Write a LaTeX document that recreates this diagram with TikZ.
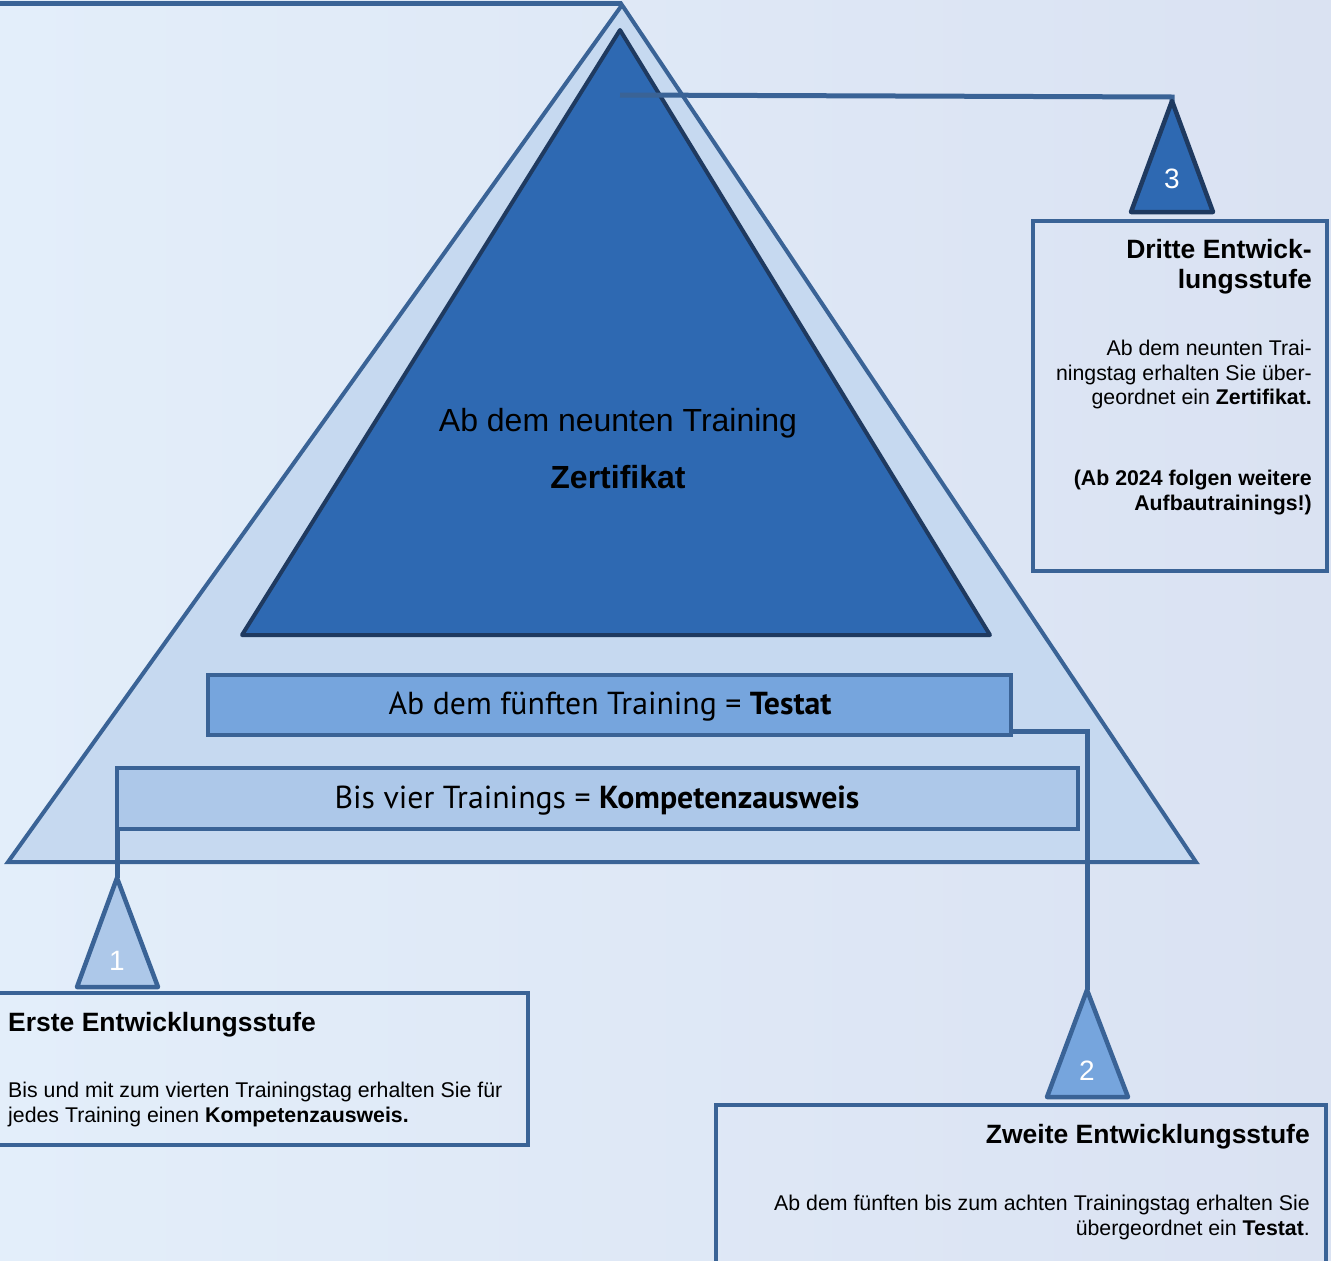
\documentclass[tikz,border=0pt]{standalone}
\usepackage{fontspec}
\setmainfont{Liberation Sans}
\newfontfamily\bandfont{PT Sans}
\usetikzlibrary{calc}
\definecolor{bgL}{HTML}{E3EEFA}
\definecolor{bgR}{HTML}{DAE2F2}
\definecolor{steel}{HTML}{3A6396}
\definecolor{navy}{HTML}{1F3A60}
\definecolor{paleblue}{HTML}{C6D9F0}
\definecolor{midblue}{HTML}{2E69B2}
\definecolor{bandA}{HTML}{76A5DD}
\definecolor{bandB}{HTML}{ADC8E9}
\tikzset{
  outertri/.style={draw=steel, line width=4pt, fill=paleblue, line join=miter},
  innertri/.style={draw=navy, line width=4pt, fill=midblue, line join=round},
  bandbox/.style={draw=steel, line width=4pt, rectangle, inner sep=0pt, outer sep=0pt},
  conn/.style={draw=steel, line width=5pt},
  numtri/.style={line width=4.5pt, line join=round},
  numlabel/.style={text=white, font=\fontsize{28}{28}\selectfont, inner sep=0pt},
  infobox/.style={draw=steel, line width=4pt},
  headtxt/.style={font=\bfseries\fontsize{26.5}{30}\selectfont, inner sep=0pt},
  bodytxt/.style={font=\fontsize{21.3}{24.5}\selectfont, inner sep=0pt},
  bigtxt/.style={font=\fontsize{32}{32}\selectfont, inner sep=0pt},
  bandtxt/.style={font=\bandfont\fontsize{31.8}{32}\selectfont, inner sep=0pt}
}
\begin{document}
\begin{tikzpicture}[x=1pt,y=-1pt]
\useasboundingbox (0,0) rectangle (1331,1261);
\clip (0,0) rectangle (1331,1261);
\shade[left color=bgL, right color=bgR] (0,0) rectangle (1331,1261);

% outer pyramid
\coordinate (apex) at (622,5);
\coordinate (baseR) at (1196,862);
\coordinate (baseL) at (8,862);
\draw[outertri] (apex) -- (baseR) -- (baseL) -- cycle;

% top line into the apex
\coordinate (topL) at (-5,3);
\draw[conn] (topL) -- (topL -| apex);

% inner triangle
\coordinate (iapex) at (620,30);
\coordinate (iR) at (990,635);
\coordinate (iL) at (242,635);
\draw[innertri] (iapex) -- (iR) -- (iL) -- cycle;
\node[bigtxt] (neun) at (618,423) {Ab dem neunten Training};
\node[bigtxt, font=\bfseries\fontsize{32}{32}\selectfont] (zert) at (618,477) {Zertifikat};

% connector 3
\coordinate (c3s) at (620,95);
\coordinate (c3k) at (1172,97);
\coordinate (t3) at (1172,101);
\draw[conn] (c3s) -- (c3k) -- (t3);
\draw[numtri, draw=navy, fill=midblue] (t3) -- (1213,212) -- (1131,212) -- cycle;
\node[numlabel] (n3) at (1172,179) {3};

% bands
\node[bandbox, fill=bandA, minimum width=803pt, minimum height=60pt] (testat) at (609.5,705) {};
\node[bandtxt] (testattxt) at (610,707) {Ab dem fünften Training = \textbf{Testat}};
\node[bandbox, fill=bandB, minimum width=961pt, minimum height=61pt] (komp) at (597.5,798.5) {};
\node[bandtxt] (komptxt) at (597,801) {Bis vier Trainings = \textbf{Kompetenzausweis}};

% connector 2
\coordinate (t2) at (1087,990);
\draw[conn] ([yshift=4pt]testat.south east) -| (t2);
\draw[numtri, draw=steel, fill=bandA] (t2) -- (1128,1097) -- (1047,1097) -- cycle;
\node[numlabel] (n2) at (1087,1071) {2};

% connector 1
\coordinate (t1) at (117,878);
\draw[conn] (komp.south west) -- (t1);
\draw[numtri, draw=steel, fill=bandB] (t1) -- (158,987) -- (77,987) -- cycle;
\node[numlabel] (n1) at (117,961) {1};

% info boxes
\draw[infobox] (1033,221) rectangle (1327,571);
\draw[infobox] (-5,993) rectangle (528,1145);
\draw[infobox] (716,1105) rectangle (1326,1275);

% box 3 texts
\node[headtxt, anchor=north east, align=right] (h3) at (1312,239) {Dritte Entwick-\\lungsstufe};
\node[bodytxt, anchor=north east, align=right] (b3) at (1312,340) {Ab dem neunten Trai-\\ningstag erhalten Sie über-\\geordnet ein \textbf{Zertifikat.}};
\node[bodytxt, font=\bfseries\fontsize{21.3}{24.5}\selectfont, anchor=north east, align=right] (b3b) at (1312,470) {(Ab 2024 folgen weitere\\Aufbautrainings!)};

% box 1 texts
\node[headtxt, anchor=north west, align=left] (h1) at (8,1012) {Erste Entwicklungsstufe};
\node[bodytxt, anchor=north west, align=left] (b1) at (8,1082) {Bis und mit zum vierten Trainingstag erhalten Sie für\\jedes Training einen \textbf{Kompetenzausweis.}};

% box 2 texts
\node[headtxt, anchor=north east, align=right] (h2) at (1310,1124) {Zweite Entwicklungsstufe};
\node[bodytxt, anchor=north east, align=right] (b2) at (1310,1195) {Ab dem fünften bis zum achten Trainingstag erhalten Sie\\übergeordnet ein \textbf{Testat}.};
\end{tikzpicture}
\end{document}
